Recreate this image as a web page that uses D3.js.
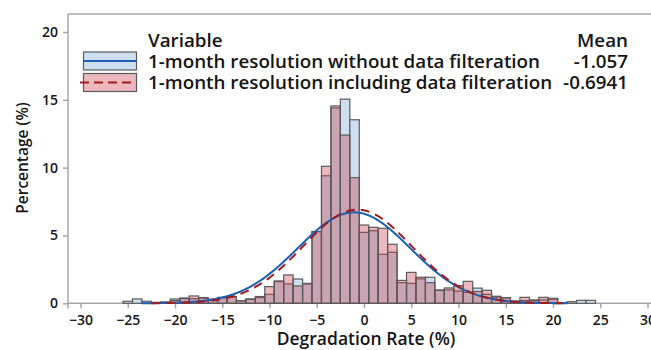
<!DOCTYPE html>
<html>
<head>
<meta charset="utf-8">
<script src="https://cdn.jsdelivr.net/npm/d3@7"></script>
<style>
  html, body { margin: 0; padding: 0; background: #fff; }
  svg { display: block; font-family: "Open Sans", "Noto Sans", sans-serif; }
</style>
</head>
<body>
<svg id="chart" width="651" height="350"></svg>
<script>
// Histogram bins: 1%-wide classes centred on integer degradation rates
const binCenters = d3.range(-25, 25);

// Percentage of systems per bin, 1-month resolution without data filteration
const withoutFilter = [
  0.15, 0.32, 0.15, 0.07, 0.10, 0.32, 0.39, 0.34, 0.42, 0.25,
  0.44, 0.45, 0.20, 0.32, 0.42, 0.66, 1.60, 1.43, 1.79, 1.47,
  5.28, 9.40, 14.40, 15.05, 13.53, 5.23, 5.35, 3.61, 3.76, 1.52,
  1.47, 1.80, 1.92, 0.98, 0.98, 0.90, 0.80, 1.12, 0.66, 0.45,
  0.40, 0.12, 0.20, 0.20, 0.25, 0.30, 0.05, 0.12, 0.22, 0.22
];

// Percentage of systems per bin, 1-month resolution including data filteration
const withFilter = [
  0.00, 0.00, 0.00, 0.00, 0.07, 0.20, 0.35, 0.54, 0.38, 0.30,
  0.40, 0.50, 0.18, 0.30, 0.50, 1.23, 1.65, 2.09, 1.28, 1.42,
  5.30, 10.10, 14.55, 12.40, 9.26, 5.77, 5.60, 5.53, 4.35, 1.69,
  2.28, 1.92, 1.52, 0.95, 1.13, 1.30, 1.62, 0.87, 0.96, 0.52,
  0.42, 0.17, 0.44, 0.25, 0.44, 0.37, 0.05, 0.00, 0.00, 0.00
];

// Fitted normal distributions
const seriesNames = [
  "1-month resolution without data filteration",
  "1-month resolution including data filteration"
];
const seriesMeans = [-1.057, -0.6941];
const seriesStdDevs = [5.95, 5.78];
const fitRanges = [[-23.5, 21.5], [-22.5, 21.0]];

const xTicks = d3.range(-30, 31, 5);
const yTicks = [0, 5, 10, 15, 20];

const svg = d3.select("#chart");

const x = d3.scaleLinear().domain([-30, 30]).range([80.5, 647.5]);
const y = d3.scaleLinear().domain([0, 20]).range([303.3, 32]);

const axisColor = "#a6a6a6";
const textColor = "#151515";
const blueFill = "#cddff1";
const pinkFill = "rgb(200,60,72)";
const pinkOpacity = 0.36;
const barStroke = "#5a5a5a";
const blueLine = "#1a5fb4";
const redLine = "#a31a1f";

// Plot frame
svg.append("line").attr("x1", 68).attr("x2", 660).attr("y1", 14).attr("y2", 14)
  .attr("stroke", axisColor).attr("stroke-width", 1.5);

// Axes via d3 axis generators
const xAxis = svg.append("g").attr("transform", `translate(0,${y(0)})`)
  .call(d3.axisBottom(x).tickValues(xTicks).tickSize(5).tickPadding(7).tickFormat(d3.format("d")));
xAxis.select(".domain").remove();
xAxis.append("line").attr("x1", 68).attr("x2", 660).attr("y1", 0).attr("y2", 0)
  .attr("stroke", axisColor).attr("stroke-width", 1.5);

const yAxis = svg.append("g").attr("transform", "translate(68,0)")
  .call(d3.axisLeft(y).tickValues(yTicks).tickSize(5).tickPadding(5));
yAxis.select(".domain").remove();
yAxis.append("line").attr("x1", 0).attr("x2", 0).attr("y1", 14).attr("y2", 308.5)
  .attr("stroke", axisColor).attr("stroke-width", 1.5);

[xAxis, yAxis].forEach(g => {
  g.selectAll(".tick line").attr("stroke", axisColor).attr("stroke-width", 1.5);
  g.selectAll(".tick text").attr("fill", textColor).style("font-size", "14px")
    .style("font-weight", 600).style("font-family", "'Open Sans', sans-serif");
});

// Bars
const bars = svg.append("g");
bars.selectAll("rect.blue").data(binCenters.map((c, i) => ({ c, v: withoutFilter[i] })).filter(d => d.v > 0))
  .join("rect").attr("class", "blue")
  .attr("x", d => x(d.c - 0.5)).attr("width", d => x(d.c + 0.5) - x(d.c - 0.5))
  .attr("y", d => y(d.v)).attr("height", d => y(0) - y(d.v))
  .attr("fill", blueFill).attr("stroke", barStroke).attr("stroke-width", 1.2);
bars.selectAll("rect.pink").data(binCenters.map((c, i) => ({ c, v: withFilter[i] })).filter(d => d.v > 0))
  .join("rect").attr("class", "pink")
  .attr("x", d => x(d.c - 0.5)).attr("width", d => x(d.c + 0.5) - x(d.c - 0.5))
  .attr("y", d => y(d.v)).attr("height", d => y(0) - y(d.v))
  .attr("fill", pinkFill).attr("fill-opacity", pinkOpacity)
  .attr("stroke", barStroke).attr("stroke-width", 1.2);

// Normal fit curves, scaled to percent per 1%-wide bin
function normalPct(v, mu, sd) {
  return 100 * Math.exp(-0.5 * ((v - mu) / sd) ** 2) / (sd * Math.sqrt(2 * Math.PI));
}
const line = d3.line().x(d => x(d[0])).y(d => y(d[1]));
const curveStyles = [
  { stroke: blueLine, dash: null },
  { stroke: redLine, dash: "9,6" }
];
seriesMeans.forEach((mu, k) => {
  const [a, b] = fitRanges[k];
  const pts = d3.range(a, b + 0.001, 0.1).map(v => [v, normalPct(v, mu, seriesStdDevs[k])]);
  svg.append("path").datum(pts).attr("d", line)
    .attr("fill", "none").attr("stroke", curveStyles[k].stroke).attr("stroke-width", 2)
    .attr("stroke-dasharray", curveStyles[k].dash);
});

// Axis titles
svg.append("text").attr("x", 366).attr("y", 345).attr("text-anchor", "middle")
  .attr("fill", textColor).style("font-size", "17.5px").style("font-weight", 600)
  .text("Degradation Rate (%)");
svg.append("text").attr("transform", "translate(28,158) rotate(-90)").attr("text-anchor", "middle")
  .attr("fill", textColor).style("font-size", "15.5px").style("font-weight", 600)
  .text("Percentage (%)");

// Legend
const legend = svg.append("g");
const legendFont = "18.8px";
legend.append("text").attr("x", 148).attr("y", 46.5).attr("fill", textColor)
  .style("font-size", legendFont).style("font-weight", 600).text("Variable");
legend.append("text").attr("x", 628).attr("y", 46.5).attr("text-anchor", "end").attr("fill", textColor)
  .style("font-size", legendFont).style("font-weight", 600).text("Mean");
const rowY = [61, 82.5];
const swatchFills = [[blueFill, 1], [pinkFill, pinkOpacity]];
seriesNames.forEach((name, k) => {
  const cy = rowY[k];
  legend.append("rect").attr("x", 83.5).attr("y", cy - 9).attr("width", 53).attr("height", 18)
    .attr("fill", "#fff").attr("stroke", "none");
  legend.append("rect").attr("x", 83.5).attr("y", cy - 9).attr("width", 53).attr("height", 18)
    .attr("fill", swatchFills[k][0]).attr("fill-opacity", swatchFills[k][1])
    .attr("stroke", barStroke).attr("stroke-width", 1.2);
  legend.append("line").attr("x1", k ? 80 : 84).attr("x2", 136).attr("y1", cy).attr("y2", cy)
    .attr("stroke", curveStyles[k].stroke).attr("stroke-width", 2)
    .attr("stroke-dasharray", k ? "9,5" : null);
  legend.append("text").attr("x", 148).attr("y", cy + 6.5).attr("fill", textColor)
    .style("font-size", legendFont).style("font-weight", 600).text(name);
  legend.append("text").attr("x", 628).attr("y", cy + 6.5).attr("text-anchor", "end").attr("fill", textColor)
    .style("font-size", legendFont).style("font-weight", 600).text(String(seriesMeans[k]));
});
</script>
</body>
</html>
